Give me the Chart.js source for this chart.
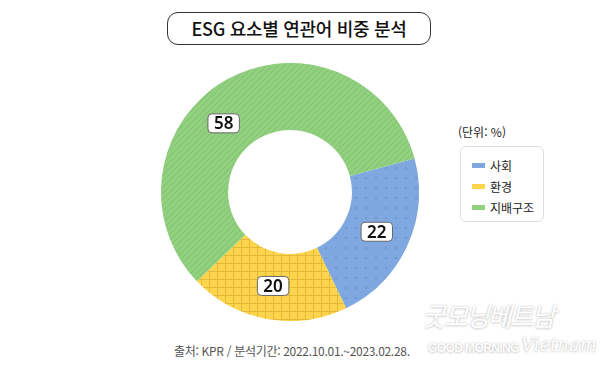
<!DOCTYPE html>
<html lang="ko">
<head>
<meta charset="utf-8">
<script src="https://cdn.jsdelivr.net/npm/chart.js@4/dist/chart.umd.min.js"></script>
<style>
    html, body { margin: 0; padding: 0; background: #fff; }
    body { width: 600px; height: 376px; position: relative; overflow: hidden;
           font-family: "Noto Sans CJK KR", "Noto Sans", sans-serif; }
    #title { position: absolute; left: 167px; top: 12px; width: 262px; height: 31px;
             border: 1.5px solid #333; border-radius: 11px; text-align: center;
             font-size: 18px; font-weight: 500; line-height: 31px; color: #111; letter-spacing: -0.3px; }
    #chartBox { position: absolute; left: 161px; top: 63px; width: 258px; height: 258px; }
    #unit { position: absolute; left: 458px; top: 123px; font-size: 12px; color: #222; }
    #legend { position: absolute; left: 460px; top: 146px; width: 84px; height: 76px;
              border: 1px solid #ddd; border-radius: 6px; box-sizing: border-box; padding-top: 8px; }
    .item { height: 21px; display: flex; align-items: center; font-size: 12px; color: #222; padding-left: 11px; }
    .sw { width: 13px; height: 5px; margin-right: 5px; }
    #source { position: absolute; left: 174px; top: 342px; font-size: 12px; color: #555; letter-spacing: -0.3px; }
    .wm { position: absolute; color: #fff; text-shadow: 0 0 2px rgba(0,0,0,0.22), 0 1px 3px rgba(0,0,0,0.15); }
</style>
</head>
<body>
<div id="title">ESG 요소별 연관어 비중 분석</div>
<div id="chartBox"><canvas id="donut"></canvas></div>
<div id="unit">(단위: %)</div>
<div id="legend"></div>
<div id="source">출처: KPR / 분석기간: 2022.10.01.~2023.02.28.</div>
<div class="wm" style="left:422px; top:296px; font-size:26px; font-style:italic; letter-spacing:-2px;">굿모닝베트남</div>
<div class="wm" style="left:428px; top:341px; font-size:12px; font-weight:bold; letter-spacing:-0.6px; font-family:'Liberation Sans',sans-serif;">GOOD MORNING</div>
<div class="wm" style="left:521px; top:334px; font-size:18px; font-style:italic; font-family:'DejaVu Serif';">Vietnam</div>

<script>
const categories = ["사회", "환경", "지배구조"];
const shares = [22, 20, 58];
const baseColors = ["#80a8e0", "#fdd54c", "#91d07e"];
const markColors = ["#6b8fcc", "#e3b93a", "#80c070"];
const patternKinds = ["dots", "grid", "stripes"];
// where along each slice the boxed number sits (0 = start, 1 = end)
const labelAt = [0.5, 0.5, 0.43];

function makePattern(kind, bg, fg) {
    const c = document.createElement("canvas");
    const size = kind === "dots" ? 10 : (kind === "grid" ? 8 : 6);
    c.width = size; c.height = size;
    const g = c.getContext("2d");
    g.fillStyle = bg;
    g.fillRect(0, 0, size, size);
    g.strokeStyle = fg;
    g.fillStyle = fg;
    if (kind === "dots") {
        g.beginPath();
        g.arc(5, 5, 0.9, 0, Math.PI * 2);
        g.fill();
    } else if (kind === "grid") {
        g.lineWidth = 1;
        g.beginPath();
        g.moveTo(0, 0.5); g.lineTo(size, 0.5);
        g.moveTo(0.5, 0); g.lineTo(0.5, size);
        g.stroke();
    } else {
        g.lineWidth = 1;
        g.beginPath();
        g.moveTo(0, size); g.lineTo(size, 0);
        g.moveTo(-size, size); g.lineTo(size, -size);
        g.moveTo(0, 2 * size); g.lineTo(2 * size, 0);
        g.stroke();
    }
    return g.createPattern(c, "repeat");
}

const legend = document.getElementById("legend");
categories.forEach((name, i) => {
    legend.innerHTML += `<div class="item"><span class="sw" style="background:${baseColors[i]}"></span>${name}</div>`;
});

// boxed value labels inside each arc
const valueLabels = {
    id: "valueLabels",
    afterDatasetsDraw(chart) {
        const ctx = chart.ctx;
        const meta = chart.getDatasetMeta(0);
        ctx.save();
        ctx.font = "600 17px 'Noto Sans', sans-serif";
        ctx.textAlign = "center";
        ctx.textBaseline = "middle";
        meta.data.forEach((arc, i) => {
            const a = arc.getProps(["x", "y", "startAngle", "endAngle", "innerRadius", "outerRadius"]);
            const ang = a.startAngle + (a.endAngle - a.startAngle) * labelAt[i];
            const r = (a.innerRadius + a.outerRadius) / 2;
            const px = a.x + Math.cos(ang) * r;
            const py = a.y + Math.sin(ang) * r;
            const text = String(chart.data.datasets[0].data[i]);
            const w = ctx.measureText(text).width + 12;
            const h = 19;
            ctx.beginPath();
            ctx.roundRect(px - w / 2, py - h / 2, w, h, 4);
            ctx.fillStyle = "#fff";
            ctx.fill();
            ctx.lineWidth = 1;
            ctx.strokeStyle = "#666";
            ctx.stroke();
            ctx.fillStyle = "#111";
            ctx.fillText(text, px, py + 1);
        });
        ctx.restore();
    }
};

new Chart(document.getElementById("donut"), {
    type: "doughnut",
    data: {
        labels: categories,
        datasets: [{
            data: shares,
            backgroundColor: patternKinds.map((k, i) => makePattern(k, baseColors[i], markColors[i])),
            borderWidth: 0
        }]
    },
    options: {
        responsive: true,
        maintainAspectRatio: false,
        animation: false,
        rotation: 75,
        cutout: "48%",
        layout: { padding: 0 },
        plugins: { legend: { display: false }, tooltip: { enabled: false } }
    },
    plugins: [valueLabels]
});
</script>
</body>
</html>
